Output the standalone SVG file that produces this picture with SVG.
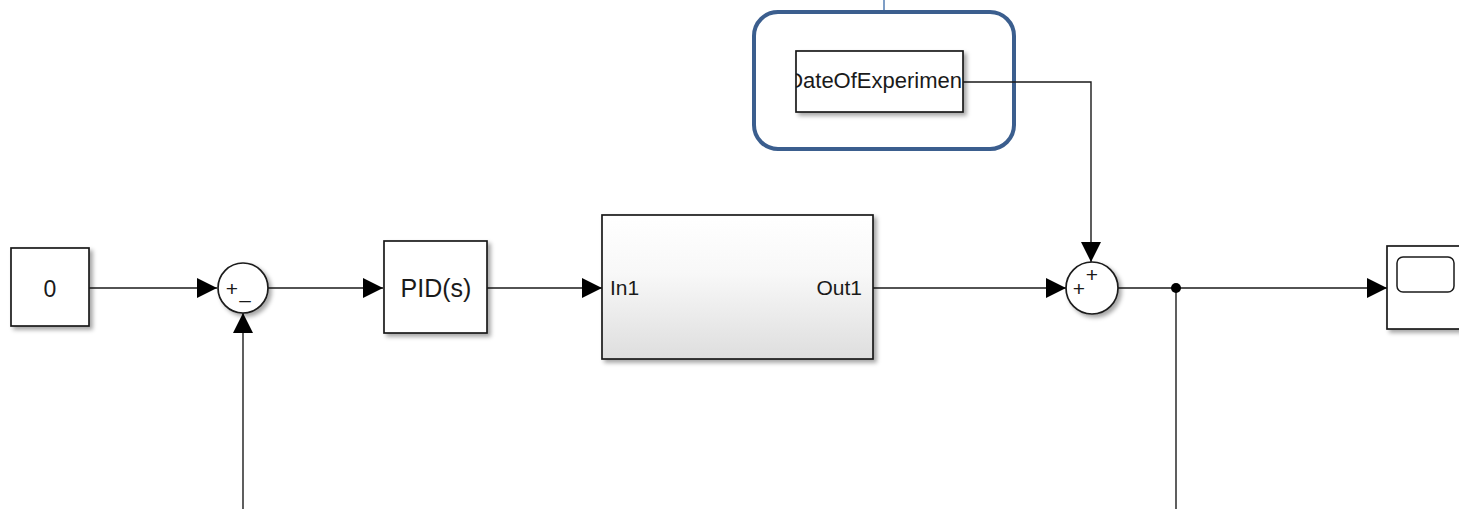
<svg xmlns="http://www.w3.org/2000/svg" width="1459" height="509" viewBox="0 0 1459 509">
  <defs>
    <style>
      .blk { fill: #ffffff; stroke: #1a1a1a; stroke-width: 1.7; }
      .wire { fill: none; stroke: #1a1a1a; stroke-width: 1.4; }
      .lbl { font-family: "Liberation Sans", Arial, sans-serif; fill: #1a1a1a; }
      .sign { font-family: "Liberation Sans", Arial, sans-serif; fill: #1a1a1a; }
    </style>
    <filter id="shadow" x="-20%" y="-20%" width="150%" height="150%">
      <feDropShadow dx="3" dy="3" stdDeviation="2" flood-color="#000000" flood-opacity="0.35"/>
    </filter>
    <linearGradient id="subsysFill" x1="0" y1="0" x2="0" y2="1">
      <stop offset="0" stop-color="#ffffff"/>
      <stop offset="0.4" stop-color="#f8f8f8"/>
      <stop offset="1" stop-color="#dedede"/>
    </linearGradient>
    <marker id="arrow" markerWidth="20" markerHeight="20" refX="20" refY="10" orient="auto" markerUnits="userSpaceOnUse">
      <path d="M0,0 L20,10 L0,20 Z" fill="#000000"/>
    </marker>
    <clipPath id="dateClip">
      <rect x="796" y="51" width="166" height="60"/>
    </clipPath>
  </defs>

  <!-- highlight frame around the date block -->
  <g id="highlight">
    <line x1="884" y1="0" x2="884" y2="11" stroke="#3a6aa8" stroke-width="1.3"/>
    <rect x="754" y="12" width="260" height="137" rx="24" ry="24" fill="none" stroke="#3b5e8e" stroke-width="4"/>
  </g>

  <!-- signal lines -->
  <g id="connectors">
    <path class="wire" d="M89,288 H217" marker-end="url(#arrow)"/>
    <path class="wire" d="M243,509 V313" marker-end="url(#arrow)"/>
    <path class="wire" d="M268,288 H383" marker-end="url(#arrow)"/>
    <path class="wire" d="M487,288 H602" marker-end="url(#arrow)"/>
    <path class="wire" d="M873,288 H1066" marker-end="url(#arrow)"/>
    <path class="wire" d="M963,82 H1091 V262" marker-end="url(#arrow)"/>
    <path class="wire" d="M1118,288 H1387" marker-end="url(#arrow)"/>
    <path class="wire" d="M1176,288 V509"/>
    <circle cx="1176" cy="288" r="5" fill="#000000"/>
  </g>

  <!-- constant -->
  <g id="constant">
    <rect class="blk" x="11" y="248" width="78" height="78" filter="url(#shadow)"/>
    <text class="lbl" x="50" y="297" font-size="23" text-anchor="middle">0</text>
  </g>

  <!-- error sum -->
  <g id="sum1">
    <circle class="blk" cx="243" cy="288" r="25" filter="url(#shadow)"/>
    <text class="sign" x="232" y="296" font-size="21" text-anchor="middle">+</text>
    <text class="sign" x="245" y="298" font-size="20" text-anchor="middle">_</text>
  </g>

  <!-- controller -->
  <g id="pid">
    <rect class="blk" x="384" y="241" width="103" height="92" filter="url(#shadow)"/>
    <text class="lbl" x="436" y="297" font-size="25" text-anchor="middle">PID(s)</text>
  </g>

  <!-- plant subsystem -->
  <g id="subsystem">
    <rect x="602" y="215" width="271" height="144" fill="url(#subsysFill)" stroke="#1a1a1a" stroke-width="1.7" filter="url(#shadow)"/>
    <text class="lbl" x="610" y="295" font-size="21">In1</text>
    <text class="lbl" x="862" y="295" font-size="21" text-anchor="end">Out1</text>
  </g>

  <!-- date source block -->
  <g id="dateOfExperiment">
    <rect class="blk" x="796" y="51" width="167" height="61" filter="url(#shadow)"/>
    <text class="lbl" x="962" y="88" font-size="22" text-anchor="end" clip-path="url(#dateClip)">DateOfExperimen</text>
  </g>

  <!-- disturbance sum -->
  <g id="sum2">
    <circle class="blk" cx="1092" cy="288" r="26" filter="url(#shadow)"/>
    <text class="sign" x="1092" y="282" font-size="21" text-anchor="middle">+</text>
    <text class="sign" x="1079" y="296" font-size="21" text-anchor="middle">+</text>
  </g>

  <!-- scope -->
  <g id="scope">
    <rect class="blk" x="1387" y="246" width="90" height="83" filter="url(#shadow)"/>
    <rect x="1397" y="257" width="57" height="35" rx="6" ry="6" fill="#ffffff" stroke="#1a1a1a" stroke-width="1.5"/>
  </g>
</svg>
